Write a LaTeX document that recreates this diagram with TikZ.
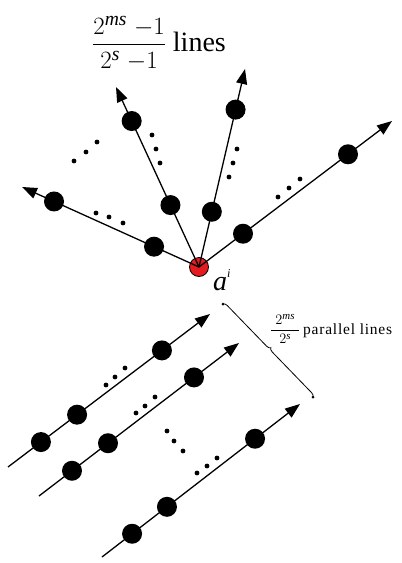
\documentclass[tikz,border=0pt]{standalone}
\usepackage{amsmath}
\usepackage{fontspec}
\setmainfont{Liberation Serif}
\usetikzlibrary{arrows.meta,calc,decorations.pathreplacing}
\definecolor{rootred}{RGB}{228,28,32}
\begin{document}
\begin{tikzpicture}[x=1pt,y=-1pt,
  vert/.style={circle,fill=black,inner sep=0pt,minimum size=20pt},
  rootv/.style={circle,draw=black,line width=0.8pt,fill=rootred,inner sep=0pt,minimum size=19pt},
  ray/.style={line width=1.3pt,-{Triangle[length=15pt,width=11pt]}},
  ell/.style={fill=black}]
\useasboundingbox (0,0) rectangle (402,563);

% ---- lines through the point a^i ----
\node[rootv] (a) at (199,267) {};
\coordinate (t1) at (22,187);
\coordinate (t2) at (116,87);
\coordinate (t3) at (245,69);
\coordinate (t4) at (392,121);
\foreach \t in {1,...,4} \draw[ray] (a.center) -- (t\t);

\node[vert] (p11) at ($(a.center)!0.254!(t1)$) {};
\node[vert] (p12) at ($(a.center)!0.819!(t1)$) {};
\node[vert] (p21) at ($(a.center)!0.344!(t2)$) {};
\node[vert] (p22) at ($(a.center)!0.811!(t2)$) {};
\node[vert] (p31) at ($(a.center)!0.279!(t3)$) {};
\node[vert] (p32) at ($(a.center)!0.795!(t3)$) {};
\node[vert] (p41) at ($(a.center)!0.228!(t4)$) {};
\node[vert] (p42) at ($(a.center)!0.772!(t4)$) {};

% ellipses on and between the lines
\foreach \x/\y in {96/213,109/217,123/223,
                   152/135,156/149,160/163,
                   237/149,233/163,229/177,
                   278/197,289/188,300/179,
                   74/161,86/152,97/142}
  \fill[ell] (\x,\y) circle (2.4);

\node[anchor=base west,font=\fontsize{28}{32}\selectfont,inner sep=0pt] (cnt) at (92,51)
  {$\dfrac{2^{\textit{ms}}\;{-1}}{2^{\textit{s}}\;{-1}}$ lines};
\node[anchor=base west,font=\fontsize{28}{32}\selectfont,inner sep=0pt] (alab) at (213,290)
  {\textit{a}\raisebox{0.45em}{\fontsize{12}{14}\selectfont\textit{i}}};

% ---- parallel lines ----
\coordinate (s1) at (8,467);   \coordinate (e1) at (210,314);
\coordinate (s2) at (39,496);  \coordinate (e2) at (239,343);
\coordinate (s3) at (102,557); \coordinate (e3) at (300,404);
\foreach \i in {1,2,3} \draw[ray] (s\i) -- (e\i);

\node[vert] (q11) at ($(s1)!0.163!(e1)$) {};
\node[vert] (q12) at ($(s1)!0.342!(e1)$) {};
\node[vert] (q13) at ($(s1)!0.762!(e1)$) {};
\node[vert] (q21) at ($(s2)!0.165!(e2)$) {};
\node[vert] (q22) at ($(s2)!0.345!(e2)$) {};
\node[vert] (q23) at ($(s2)!0.775!(e2)$) {};
\node[vert] (q31) at ($(s3)!0.152!(e3)$) {};
\node[vert] (q32) at ($(s3)!0.328!(e3)$) {};
\node[vert] (q33) at ($(s3)!0.773!(e3)$) {};

\foreach \x/\y in {106/385,115/377,125/368,
                   136/413,145/406,155/397,
                   197/473,207/466,217/458,
                   167/431,174/441,183/451}
  \fill[ell] (\x,\y) circle (2.4);

% brace over the parallel lines
\coordinate (b1) at (223,304);
\coordinate (b2) at (313,397);
\draw[line width=0.8pt,decorate,decoration={brace,amplitude=4pt}] (b1) -- (b2);
\fill (b1) circle (1.5);
\fill (b2) circle (1.5);
\node[anchor=base west,font=\fontsize{15.5}{18}\selectfont,inner sep=0pt] (plab) at (270,334)
  {$\dfrac{\;2^{\textit{ms}}\;}{2^{\textit{s}}}$\hspace{3pt}{\addfontfeature{LetterSpace=5}parallel lines}};
\end{tikzpicture}
\end{document}
